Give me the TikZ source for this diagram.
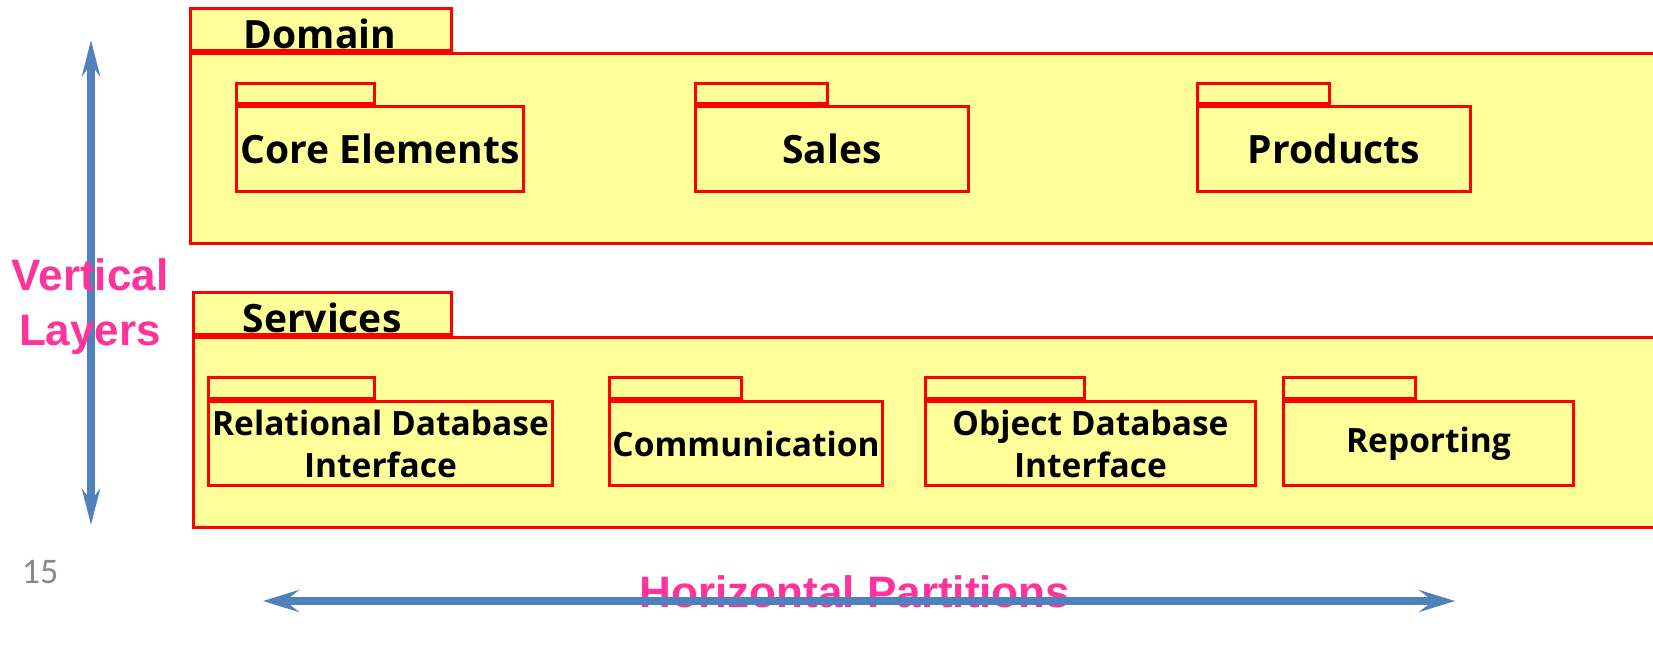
\documentclass[tikz,border=0pt]{standalone}
\usepackage{fontspec}
\usetikzlibrary{arrows.meta}
\newfontfamily\pkgfont{Open Sans}
\newfontfamily\arialfont{Liberation Sans}
\newfontfamily\numfont{Carlito}
\definecolor{pkgred}{HTML}{FF0000}
\definecolor{pkgyellow}{HTML}{FFFF99}
\definecolor{arrowblue}{HTML}{4F81BD}
\definecolor{labelpink}{HTML}{FF3399}
\definecolor{numgray}{HTML}{898989}
\tikzset{
  pkgbody/.style={draw=pkgred, fill=pkgyellow, line width=3pt, anchor=north west, inner sep=0pt},
  pkgtab/.style={draw=pkgred, fill=pkgyellow, line width=3pt, anchor=south west, inner sep=0pt},
  bigtext/.style={font=\pkgfont\bfseries\fontsize{39}{46}\selectfont, text=black},
  subtext/.style={font=\pkgfont\bfseries\fontsize{39}{46}\selectfont, text=black, align=center},
  smalltext/.style={font=\pkgfont\bfseries\fontsize{33.5}{42}\selectfont, text=black, align=center},
  pinktext/.style={font=\arialfont\bfseries\fontsize{44}{55}\selectfont, text=labelpink, align=center},
  vblue/.style={draw=arrowblue, line width=8pt, {Stealth[length=36pt,width=18pt,inset=12pt]}-{Stealth[length=36pt,width=18pt,inset=12pt]}},
  hblue/.style={draw=arrowblue, line width=8pt, {Stealth[length=36pt,width=22pt,inset=14pt]}-{Stealth[length=36pt,width=22pt,inset=14pt]}},
}
\begin{document}
\begin{tikzpicture}[x=1pt,y=-1pt]
\useasboundingbox (0,0) rectangle (1653,646);
\clip (0,0) rectangle (1653,646);
% Domain layer
\node[pkgtab, minimum width=261pt, minimum height=42pt] (domtab) at (189,52) {};
\node[pkgbody, minimum width=1500pt, minimum height=190pt] (dom) at (189,52) {};
\node[bigtext] (domlbl) at (320,34) {Domain};
% Domain subpackages
\node[pkgbody, minimum width=287pt, minimum height=85pt, subtext] (core) at (235,105) {Core Elements};
\node[pkgtab, minimum width=138pt, minimum height=20pt] (coretab) at (core.north west) {};
\node[pkgbody, minimum width=273pt, minimum height=85pt, subtext] (sales) at (694,105) {Sales};
\node[pkgtab, minimum width=132pt, minimum height=20pt] (salestab) at (sales.north west) {};
\node[pkgbody, minimum width=273pt, minimum height=85pt, subtext] (prod) at (1196,105) {Products};
\node[pkgtab, minimum width=132pt, minimum height=20pt] (prodtab) at (prod.north west) {};
% Services layer
\node[pkgtab, minimum width=258pt, minimum height=42pt] (svctab) at (192,336) {};
\node[pkgbody, minimum width=1500pt, minimum height=190pt] (svc) at (192,336) {};
\node[bigtext] (svclbl) at (322,318) {Services};
% Services subpackages
\node[pkgbody, minimum width=344pt, minimum height=84pt, smalltext] (rdb) at (207,400) {Relational Database\\Interface};
\node[pkgtab, minimum width=166pt, minimum height=21pt] (rdbtab) at (rdb.north west) {};
\node[pkgbody, minimum width=273pt, minimum height=84pt, smalltext] (comm) at (608,400) {Communication};
\node[pkgtab, minimum width=132pt, minimum height=21pt] (commtab) at (comm.north west) {};
\node[pkgbody, minimum width=330pt, minimum height=84pt, smalltext] (odb) at (924,400) {Object Database\\Interface};
\node[pkgtab, minimum width=159pt, minimum height=21pt] (odbtab) at (odb.north west) {};
\node[pkgbody, minimum width=290pt, minimum height=84pt, smalltext] (rep) at (1282,400) {Reporting};
\node[pkgtab, minimum width=132pt, minimum height=21pt] (reptab) at (rep.north west) {};
% Vertical arrow and label
\coordinate (vtop) at (91,40);
\coordinate (vbot) at (91,525);
\draw[vblue] (vtop) -- (vbot);
\node[pinktext] (vlbl) at (90,307) {Vertical\\Layers};
% Horizontal label and arrow
\node[pinktext] (hlbl) at (855,592) {Horizontal Partitions};
\coordinate (hleft) at (263,601);
\coordinate (hright) at (1455,601);
\draw[hblue] (hleft) -- (hright);
% Page number
\node[font=\numfont\fontsize{36}{42}\selectfont, text=numgray] (pagenum) at (40,572) {15};
\end{tikzpicture}
\end{document}
